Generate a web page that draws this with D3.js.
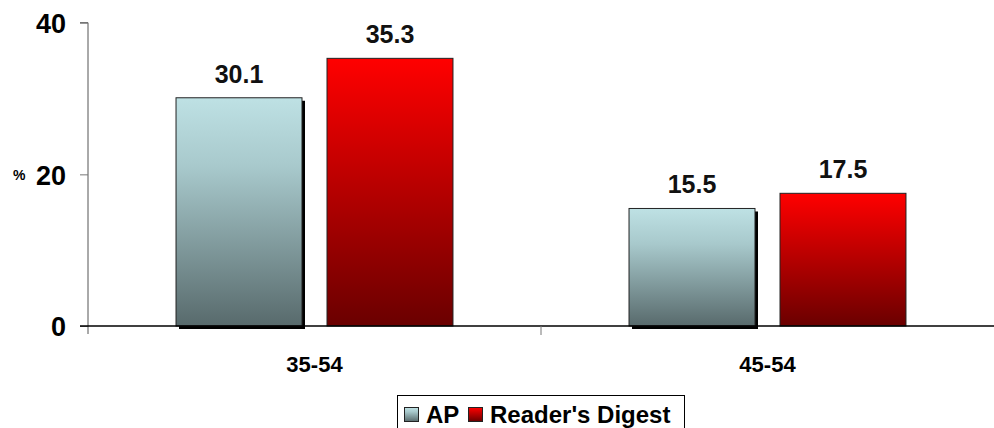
<!DOCTYPE html>
<html><head><meta charset="utf-8">
<script src="https://cdn.jsdelivr.net/npm/d3@7"></script>
<style>body{margin:0;background:#fff}svg{display:block;font-family:Arial,"Liberation Sans",sans-serif;font-weight:bold}</style>
</head><body>
<script>
const categories = ["35-54", "45-54"];
const seriesNames = ["AP", "Reader's Digest"];
const apValues = [30.1, 15.5];
const rdValues = [35.3, 17.5];
const yTicks = [0, 20, 40];

const W = 994, H = 428;
const svg = d3.select("body").append("svg").attr("width", W).attr("height", H);
const defs = svg.append("defs");
const g1 = defs.append("linearGradient").attr("id","gAP").attr("x1",0).attr("y1",0).attr("x2",0).attr("y2",1);
g1.append("stop").attr("offset","0%").attr("stop-color","#bee1e4");
g1.append("stop").attr("offset","30%").attr("stop-color","#a8c9cc");
g1.append("stop").attr("offset","100%").attr("stop-color","#586a6c");
const g2 = defs.append("linearGradient").attr("id","gRD").attr("x1",0).attr("y1",0).attr("x2",0).attr("y2",1);
g2.append("stop").attr("offset","0%").attr("stop-color","#ff0000");
g2.append("stop").attr("offset","100%").attr("stop-color","#6a0000");
const fills = ["url(#gAP)", "url(#gRD)"];

const x0 = d3.scaleBand().domain(categories).range([88, 994]).paddingInner(0).paddingOuter(0);
const x1 = d3.scaleBand().domain(seriesNames).range([0, x0.bandwidth()]).paddingInner(0.1656).paddingOuter(0.583);
const y = d3.scaleLinear().domain([0, 40]).range([326, 22.7]);

const data = categories.map((c, i) => ({cat: c, vals: [
  {s: seriesNames[0], v: apValues[i], k: 0},
  {s: seriesNames[1], v: rdValues[i], k: 1}]}));

// y axis
const yAxis = svg.append("g").attr("transform","translate(88,0)")
  .call(d3.axisLeft(y).tickValues(yTicks).tickSize(8).tickFormat(d3.format("d")));
yAxis.select(".domain").attr("stroke","#555").attr("d","M-8,22.7H0V334");
yAxis.selectAll(".tick line").attr("stroke","#777");
yAxis.selectAll(".tick text").attr("font-size",27).attr("font-weight","bold").attr("fill","#000")
  .attr("font-family","Arial, 'Liberation Sans', sans-serif").attr("x",-22).attr("dy","0.36em");
svg.append("text").attr("x",13).attr("y",180).attr("font-size",14).text("%");

// groups
const grp = svg.selectAll(".grp").data(data).enter().append("g").attr("class","grp")
  .attr("transform", d => `translate(${x0(d.cat)},0)`);
// shadows for AP
grp.selectAll(".sh").data(d => d.vals.filter(v => v.k === 0)).enter().append("rect")
  .attr("x", d => x1(d.s) + 3).attr("y", d => y(d.v) + 3)
  .attr("width", x1.bandwidth()).attr("height", d => y(0) - y(d.v)).attr("fill","#000");
grp.selectAll(".bar").data(d => d.vals).enter().append("rect")
  .attr("x", d => x1(d.s)).attr("y", d => y(d.v))
  .attr("width", x1.bandwidth()).attr("height", d => y(0) - y(d.v))
  .attr("fill", d => fills[d.k]).attr("stroke","#222").attr("stroke-width",1);
grp.selectAll(".lbl").data(d => d.vals).enter().append("text")
  .attr("x", d => x1(d.s) + x1.bandwidth()/2).attr("y", d => y(d.v) - 15)
  .attr("text-anchor","middle").attr("font-size",25).attr("fill","#111").text(d => d.v.toFixed(1));

// x axis
const xAxis = svg.append("g").attr("transform","translate(0,326)")
  .call(d3.axisBottom(x0).tickSize(0).tickPadding(0));
xAxis.select(".domain").remove();
xAxis.selectAll(".tick text").attr("font-size",22).attr("font-weight","bold").attr("fill","#000")
  .attr("font-family","Arial, 'Liberation Sans', sans-serif").attr("dy",0).attr("y",46);
svg.append("line").attr("x1",80).attr("x2",994).attr("y1",326).attr("y2",326).attr("stroke","#000").attr("stroke-width",1.5);
svg.selectAll(".ctick").data(categories.slice(1)).enter().append("line")
  .attr("x1", d => x0(d)).attr("x2", d => x0(d)).attr("y1",326).attr("y2",335).attr("stroke","#777");

// legend
const lg = svg.append("g");
lg.append("rect").attr("x",397.5).attr("y",395.5).attr("width",287).attr("height",45).attr("fill","#fff").attr("stroke","#000");
const items = [{n: seriesNames[0], x: 404, tx: 426}, {n: seriesNames[1], x: 468, tx: 490}];
items.forEach((it, i) => {
  lg.append("rect").attr("x", it.x + 0.5).attr("y", 407.5).attr("width",14).attr("height",14)
    .attr("fill", fills[i]).attr("stroke","#222");
  lg.append("text").attr("x", it.tx).attr("y", 423).attr("font-size",24).attr("fill","#000").text(it.n);
});
</script>
</body></html>
